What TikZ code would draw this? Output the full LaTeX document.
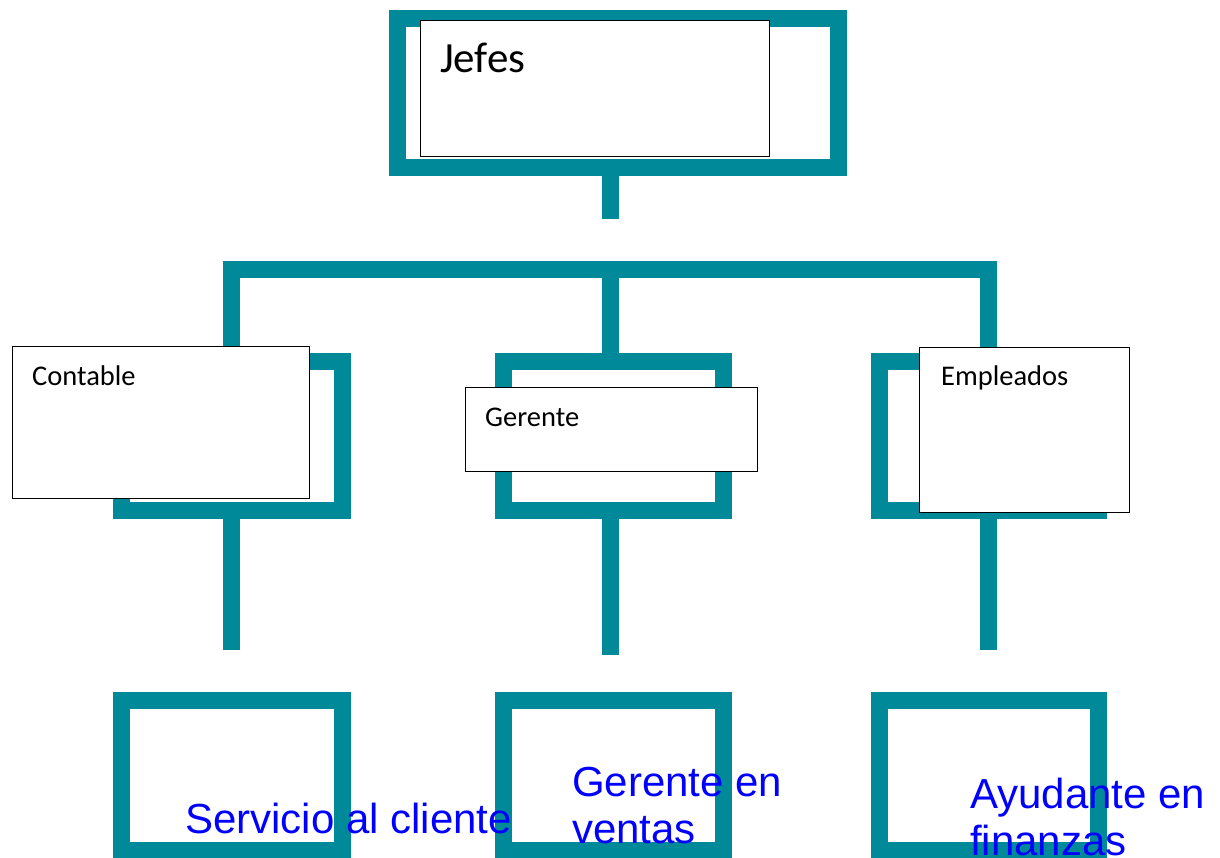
\documentclass[tikz,border=0pt]{standalone}
\usepackage{fontspec}
\setmainfont{Carlito}
\newfontfamily\arialf{Liberation Sans}
\definecolor{tealc}{RGB}{0,137,153}
\definecolor{bluec}{RGB}{0,0,255}
\begin{document}
\begin{tikzpicture}[x=1pt,y=-1pt,
  frame/.style={draw=tealc, line width=17pt, line join=miter},
  wbox/.style={draw=black, fill=white, line width=1pt},
  lbl/.style={anchor=base west, inner sep=0pt, text=black},
  blbl/.style={anchor=base west, inner sep=0pt, text=bluec, align=left, font=\arialf\fontsize{42}{47}\selectfont}]
\useasboundingbox (0,0) rectangle (1220,857);
\clip (0,0) rectangle (1220,857);
% top frame and stem
\draw[frame] (397.5,18) rectangle (838,167.5);
\draw[frame] (610.5,167.5) -- (610.5,219);
% horizontal bar and stubs
\draw[frame] (231.5,361) -- (231.5,269) -- (988,269) -- (988,361);
\draw[frame] (610.5,269) -- (610.5,361);
% middle frames
\draw[frame] (121.5,361) rectangle (342.5,510.5);
\draw[frame] (503.5,361) rectangle (723.5,510);
\draw[frame] (879,361) rectangle (1098.5,510.5);
% lower stubs
\draw[frame] (231.5,510.5) -- (231.5,650);
\draw[frame] (610.5,510) -- (610.5,655);
\draw[frame] (988,510.5) -- (988,650);
% bottom frames
\draw[frame] (121.5,700.5) rectangle (342.5,850.5);
\draw[frame] (503.5,700.5) rectangle (723.5,850.5);
\draw[frame] (879,700.5) rectangle (1098.5,850.5);
% white text boxes
\draw[wbox] (420,20) rectangle (769,156);
\draw[wbox] (12,346) rectangle (309,498);
\draw[wbox] (465,387) rectangle (757,471);
\draw[wbox] (919,347) rectangle (1129,512);
\node[lbl, font=\fontsize{43}{50}\selectfont] (jefes) at (440,72) {Jefes};
\node[lbl, font=\fontsize{28.5}{34}\selectfont] (contable) at (32,385) {Contable};
\node[lbl, font=\fontsize{28.5}{34}\selectfont] (gerente) at (485,426) {Gerente};
\node[lbl, font=\fontsize{28.5}{34}\selectfont] (empleados) at (941,385) {Empleados};
% blue labels
\node[blbl] (servicio) at (185,833) {Servicio al cliente};
\node[blbl] (ventas) at (572,843) {Gerente en\\ventas};
\node[blbl] (finanzas) at (970,855) {Ayudante en\\finanzas};
\end{tikzpicture}
\end{document}
